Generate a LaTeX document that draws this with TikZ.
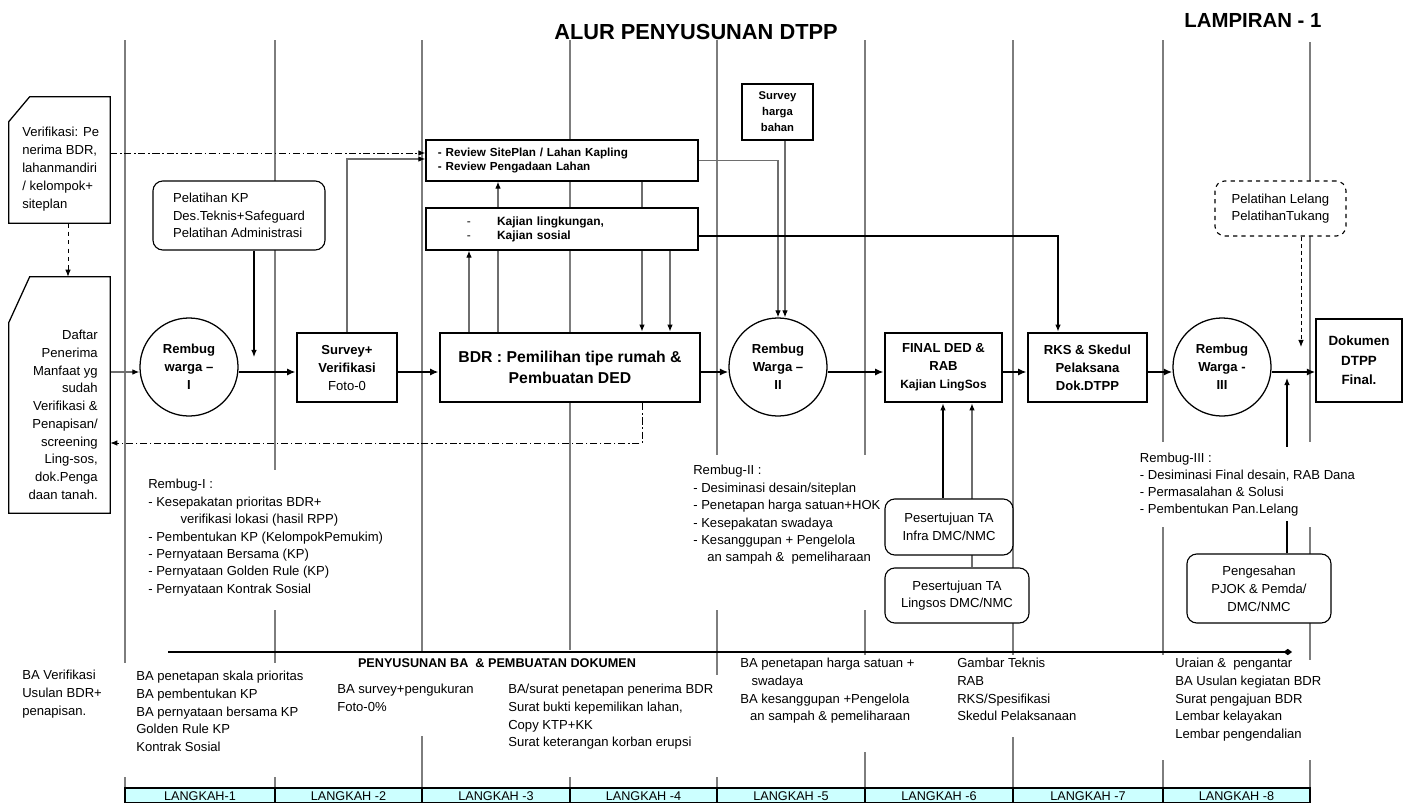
\documentclass[tikz,border=0pt]{standalone}
\usepackage{fontspec}
\setmainfont{Liberation Sans}
\usetikzlibrary{arrows.meta,positioning}
\definecolor{gridgray}{RGB}{125,125,125}
\definecolor{linkgray}{RGB}{110,110,110}
\definecolor{stepcyan}{RGB}{204,255,255}
\pgfdeclarelayer{grid}
\pgfdeclarelayer{edges}
\pgfsetlayers{grid,edges,main}
\newcommand{\fsz}[2]{\fontsize{#1}{#2}\selectfont}

\begin{document}
\begin{tikzpicture}[x=0.025cm, y=-0.025cm,
  every node/.style={font=\fsz{9.3}{12.4}, inner sep=0pt},
  proc/.style={draw, line width=2pt, fill=white, align=center, font=\bfseries\fsz{9.3}{12.8}},
  frame/.style={draw, line width=0.9pt, fill=white},
  soft/.style={draw, line width=0.8pt, rounded corners=7pt, fill=white, align=center},
  meet/.style={draw, circle, line width=0.9pt, fill=white, minimum size=2.45cm, align=center, font=\bfseries\fsz{9.3}{12.8}},
  note/.style={anchor=north west, align=left},
  banote/.style={anchor=north west, align=left, font=\fsz{9.3}{12.6}},
  flow/.style={line width=1.6pt, -{Latex[length=6pt,width=5pt]}},
  lnk/.style={line width=0.8pt, -{Latex[length=5pt,width=4pt]}},
  glnk/.style={line width=0.8pt, linkgray, -{Latex[length=5pt,width=4pt,color=black]}},
  dashlnk/.style={line width=0.7pt, dashed, -{Latex[length=5pt,width=4pt]}},
  dotlnk/.style={line width=0.7pt, densely dashed, -{Latex[length=5pt,width=4pt]}},
  dashdot/.style={line width=0.7pt, dash pattern=on 5pt off 2pt on 1pt off 2pt, -{Latex[length=5pt,width=4pt]}},
  ba/.style={line width=1.8pt, -{Diamond[length=6pt,width=4.5pt]}},
  gridthick/.style={gridgray, line width=1.3pt},
  gridthin/.style={gridgray, line width=0.8pt}
]
\useasboundingbox (0,0) rectangle (1410,803);

% Titles
\node[font=\bfseries\fsz{15.5}{18}] (title) at (696,32) {ALUR PENYUSUNAN DTPP};
\node[font=\bfseries\fsz{14.5}{17}] (lampiran) at (1253,20) {LAMPIRAN - 1};

% Step columns
\begin{pgfonlayer}{grid}
\foreach \gx/\ya/\yb in {125/40/663, 125/777/788, 570/40/650, 570/777/788,
  865/40/455, 865/610/655, 865/752/788, 1013/40/655, 1013/737/788,
  1310/42/442, 1310/527/660, 1310/760/788}
  \draw[gridthick] (\gx,\ya) -- (\gx,\yb);
\foreach \gx/\ya/\yb in {275/40/470, 275/610/663, 275/777/788, 422/40/652, 422/736/788,
  717/40/455, 717/610/675, 717/777/788, 1163/40/442, 1163/527/655, 1163/760/788}
  \draw[gridthin] (\gx,\ya) -- (\gx,\yb);
\end{pgfonlayer}

% Langkah row
\foreach \i/\xa/\xb/\txt in {1/125/275/LANGKAH-1, 2/275/422/LANGKAH -2, 3/422/570/LANGKAH -3,
  4/570/717/LANGKAH -4, 5/717/865/LANGKAH -5, 6/865/1013/LANGKAH -6,
  7/1013/1163/LANGKAH -7, 8/1163/1310/LANGKAH -8} {
  \draw[fill=stepcyan, line width=0.8pt] (\xa,788) rectangle (\xb,803);
  \node[font=\fsz{9}{11}] (step\i) at ({(\xa+\xb)/2},796) {\txt};
}

% Left documents
\node[minimum width=2.525cm, minimum height=3.15cm] (verif) at (59.5,160) {};
\draw[line width=0.9pt] (verif.south west) -- (verif.south east) -- (verif.north east)
  -- ([xshift=0.525cm]verif.north west) -- ([yshift=-0.625cm]verif.north west) -- cycle;
\node[note, font=\fsz{9.3}{12.8}] (veriftext) at (22,127) {Verifikasi: Pe\\nerima BDR,\\lahanmandiri\\/ kelompok+\\siteplan};

\node[minimum width=2.525cm, minimum height=5.9cm] (daftar) at (59.5,395) {};
\draw[line width=0.9pt] (daftar.south west) -- (daftar.south east) -- (daftar.north east)
  -- ([xshift=0.525cm]daftar.north west) -- ([yshift=-1.15cm]daftar.north west) -- cycle;
\node[anchor=north east, align=right, font=\fsz{9.3}{12.6}] (daftartext) at (98,330)
  {Daftar\\Penerima\\Manfaat yg\\sudah\\Verifikasi \&\\Penapisan/\\screening\\Ling-sos,\\dok.Penga\\daan tanah.};

% Main flow
\node[meet] (rw1) at (189,367) {Rembug\\warga –\\I};
\node[proc, minimum width=2.5cm, minimum height=1.725cm] (survey) at (347,367.5) {Survey+\\Verifikasi\\\mdseries Foto-0};
\node[proc, minimum width=6.5cm, minimum height=1.725cm, font=\bfseries\fsz{11.2}{15}] (bdr) at (570,367.5) {BDR : Pemilihan tipe rumah \&\\Pembuatan DED};
\node[meet] (rw2) at (778,367) {Rembug\\Warga –\\II};
\node[proc, minimum width=2.925cm, minimum height=1.725cm] (final) at (943.5,367.5) {FINAL DED \&\\RAB\\\fsz{8.5}{12.8}Kajian LingSos};
\node[proc, minimum width=2.975cm, minimum height=1.725cm] (rks) at (1087.5,367.5) {RKS \& Skedul\\Pelaksana\\Dok.DTPP};
\node[meet] (rw3) at (1222,367) {Rembug\\Warga -\\III};
\node[frame, minimum width=2.15cm, minimum height=2.075cm, align=center, font=\bfseries\fsz{9.5}{14}] (dok) at (1359,360.5) {Dokumen\\DTPP\\Final.};

% Upper boxes
\node[soft, minimum width=4.3cm, minimum height=1.725cm, align=left] (pelkp) at (239,215.5) {Pelatihan KP\\Des.Teknis+Safeguard\\Pelatihan Administrasi};
\node[frame, minimum width=6.8cm, minimum height=1.025cm, text width=6.2cm, inner xsep=0.3cm, align=left, font=\bfseries\fsz{8.3}{10.6}] (review) at (562,160.5) {- Review SitePlan / Lahan Kapling\\- Review Pengadaan Lahan};
\node[frame, minimum width=6.8cm, minimum height=1.05cm, text width=6.2cm, inner xsep=0.3cm, align=left, font=\bfseries\fsz{8.5}{10}] (kajian) at (562,229)
  {\makebox[42pt][l]{\hspace*{20.6pt}\mdseries -}Kajian lingkungan,\\\makebox[42pt][l]{\hspace*{20.6pt}\mdseries -}Kajian sosial};
\node[frame, minimum width=1.775cm, minimum height=1.4cm, align=center, font=\bfseries\fsz{8}{11.3}] (harga) at (777.5,112) {Survey\\harga\\bahan};
\node[soft, dashed, minimum width=3.275cm, minimum height=1.375cm, align=left] (lelang) at (1280.5,208.5) {Pelatihan Lelang\\PelatihanTukang};

% Approval boxes
\node[soft, minimum width=3.2cm, minimum height=1.4cm] (infra) at (949,527) {Pesertujuan TA\\Infra DMC/NMC};
\node[soft, minimum width=3.6cm, minimum height=1.375cm] (lingsos) at (957,595.5) {Pesertujuan TA\\Lingsos DMC/NMC};
\node[soft, minimum width=3.6cm, minimum height=1.725cm, font=\fsz{9.3}{12.8}] (pengesahan) at (1259,588.5) {Pengesahan\\PJOK \& Pemda/\\DMC/NMC};

% Levels for connectors
\coordinate (lv) at (0,372);
\coordinate (ya) at (0,153);
\coordinate (yb) at (0,159);
\coordinate (yd) at (0,236);
\coordinate (ye) at (0,443);
\coordinate (xa) at (469,0);
\coordinate (xb) at (498,0);
\coordinate (xc) at (642,0);
\coordinate (xd) at (670,0);
\coordinate (xf) at (785,0);
\coordinate (xg) at (1058,0);
\coordinate (xh) at (943,0);
\coordinate (xi) at (972,0);
\coordinate (xm) at (68,0);
\coordinate (pelkpend) at (254,357);
\coordinate (pgsend) at (1287,378);
\coordinate (lelangend) at (1301,347);
\coordinate (bastart) at (168,652);
\coordinate (baend) at (1292,652);

% Connectors
\begin{pgfonlayer}{edges}
\draw[dashlnk] (verif.south -| xm) -- (daftar.north -| xm);
\draw[dashdot] (verif.east |- ya) -- (review.west |- ya);
\draw[glnk] (survey.north) |- (review.west |- yb);
\draw[lnk] (pelkp.south -| pelkpend) -- (pelkpend);
\draw[glnk] (daftar.east |- lv) -- (rw1.west |- lv);
\draw[flow] (rw1.east |- lv) -- (survey.west |- lv);
\draw[flow] (survey.east |- lv) -- (bdr.west |- lv);
\draw[flow] (bdr.east |- lv) -- (rw2.west |- lv);
\draw[flow] (rw2.east |- lv) -- (final.west |- lv);
\draw[flow] (final.east |- lv) -- (rks.west |- lv);
\draw[flow] (rks.east |- lv) -- (rw3.west |- lv);
\draw[flow] (rw3.east |- lv) -- (dok.west |- lv);
\draw[glnk] (bdr.north -| xa) -- (kajian.south -| xa);
\draw[glnk] (bdr.north -| xb) -- (review.south -| xb);
\draw[glnk] (review.south -| xc) -- (bdr.north -| xc);
\draw[glnk] (kajian.south -| xd) -- (bdr.north -| xd);
\draw[glnk] (review.east) -| (rw2.north);
\draw[glnk] (harga.south -| xf) -- (rw2.north -| xf);
\draw[lnk] (kajian.east |- yd) -| (rks.north -| xg);
\draw[lnk] (infra.north -| xh) -- (final.south -| xh);
\draw[glnk] (lingsos.north -| xi) -- (final.south -| xi);
\draw[lnk] (pengesahan.north -| pgsend) -- (pgsend);
\draw[dotlnk] (lelang.south -| lelangend) -- (lelangend);
\draw[dashdot] (bdr.south -| xc) |- (daftar.east |- ye);
\draw[ba] (bastart) -- (baend);
\end{pgfonlayer}

% Rembug notes
\node[note] (rembugone) at (148,479) {Rembug-I :\\- Kesepakatan prioritas BDR+\\\hspace*{23pt}verifikasi lokasi (hasil RPP)\\- Pembentukan KP (KelompokPemukim)\\- Pernyataan Bersama (KP)\\- Pernyataan Golden Rule (KP)\\- Pernyataan Kontrak Sosial};
\node[note] (rembugtwo) at (693,465) {Rembug-II :\\- Desiminasi desain/siteplan\\- Penetapan harga satuan+HOK\\- Kesepakatan swadaya\\- Kesanggupan + Pengelola\\\hspace*{10pt}an sampah \&\ \ pemeliharaan};
\node[note, fill=white, inner sep=4pt, font=\fsz{9.3}{12}] (rembugthree) at (1134,447) {Rembug-III :\\- Desiminasi Final desain, RAB Dana\\- Permasalahan \& Solusi\\- Pembentukan Pan.Lelang};

% Documents per step
\node[font=\bfseries\fsz{9}{11}] (penyusunan) at (497,663) {PENYUSUNAN BA \ \& PEMBUATAN DOKUMEN};
\node[banote] (baverif) at (22,670) {BA Verifikasi\\Usulan BDR+\\penapisan.};
\node[banote] (baone) at (136,671) {BA penetapan skala prioritas\\BA pembentukan KP\\BA pernyataan bersama KP\\Golden Rule KP\\Kontrak Sosial};
\node[banote] (batwo) at (337,684) {BA survey+pengukuran\\Foto-0\%};
\node[banote] (bathree) at (508,684) {BA/surat penetapan penerima BDR\\Surat bukti kepemilikan lahan,\\Copy KTP+KK\\Surat keterangan korban erupsi};
\node[banote] (bafive) at (740,658) {BA penetapan harga satuan +\\\hspace*{8pt}swadaya\\BA kesanggupan +Pengelola\\\hspace*{7pt}an sampah \& pemeliharaan};
\node[banote] (basix) at (957,658) {Gambar Teknis\\RAB\\RKS/Spesifikasi\\Skedul Pelaksanaan};
\node[banote] (baeight) at (1175,658) {Uraian \&\ \ pengantar\\BA Usulan kegiatan BDR\\Surat pengajuan BDR\\Lembar kelayakan\\Lembar pengendalian};
\end{tikzpicture}
\end{document}
